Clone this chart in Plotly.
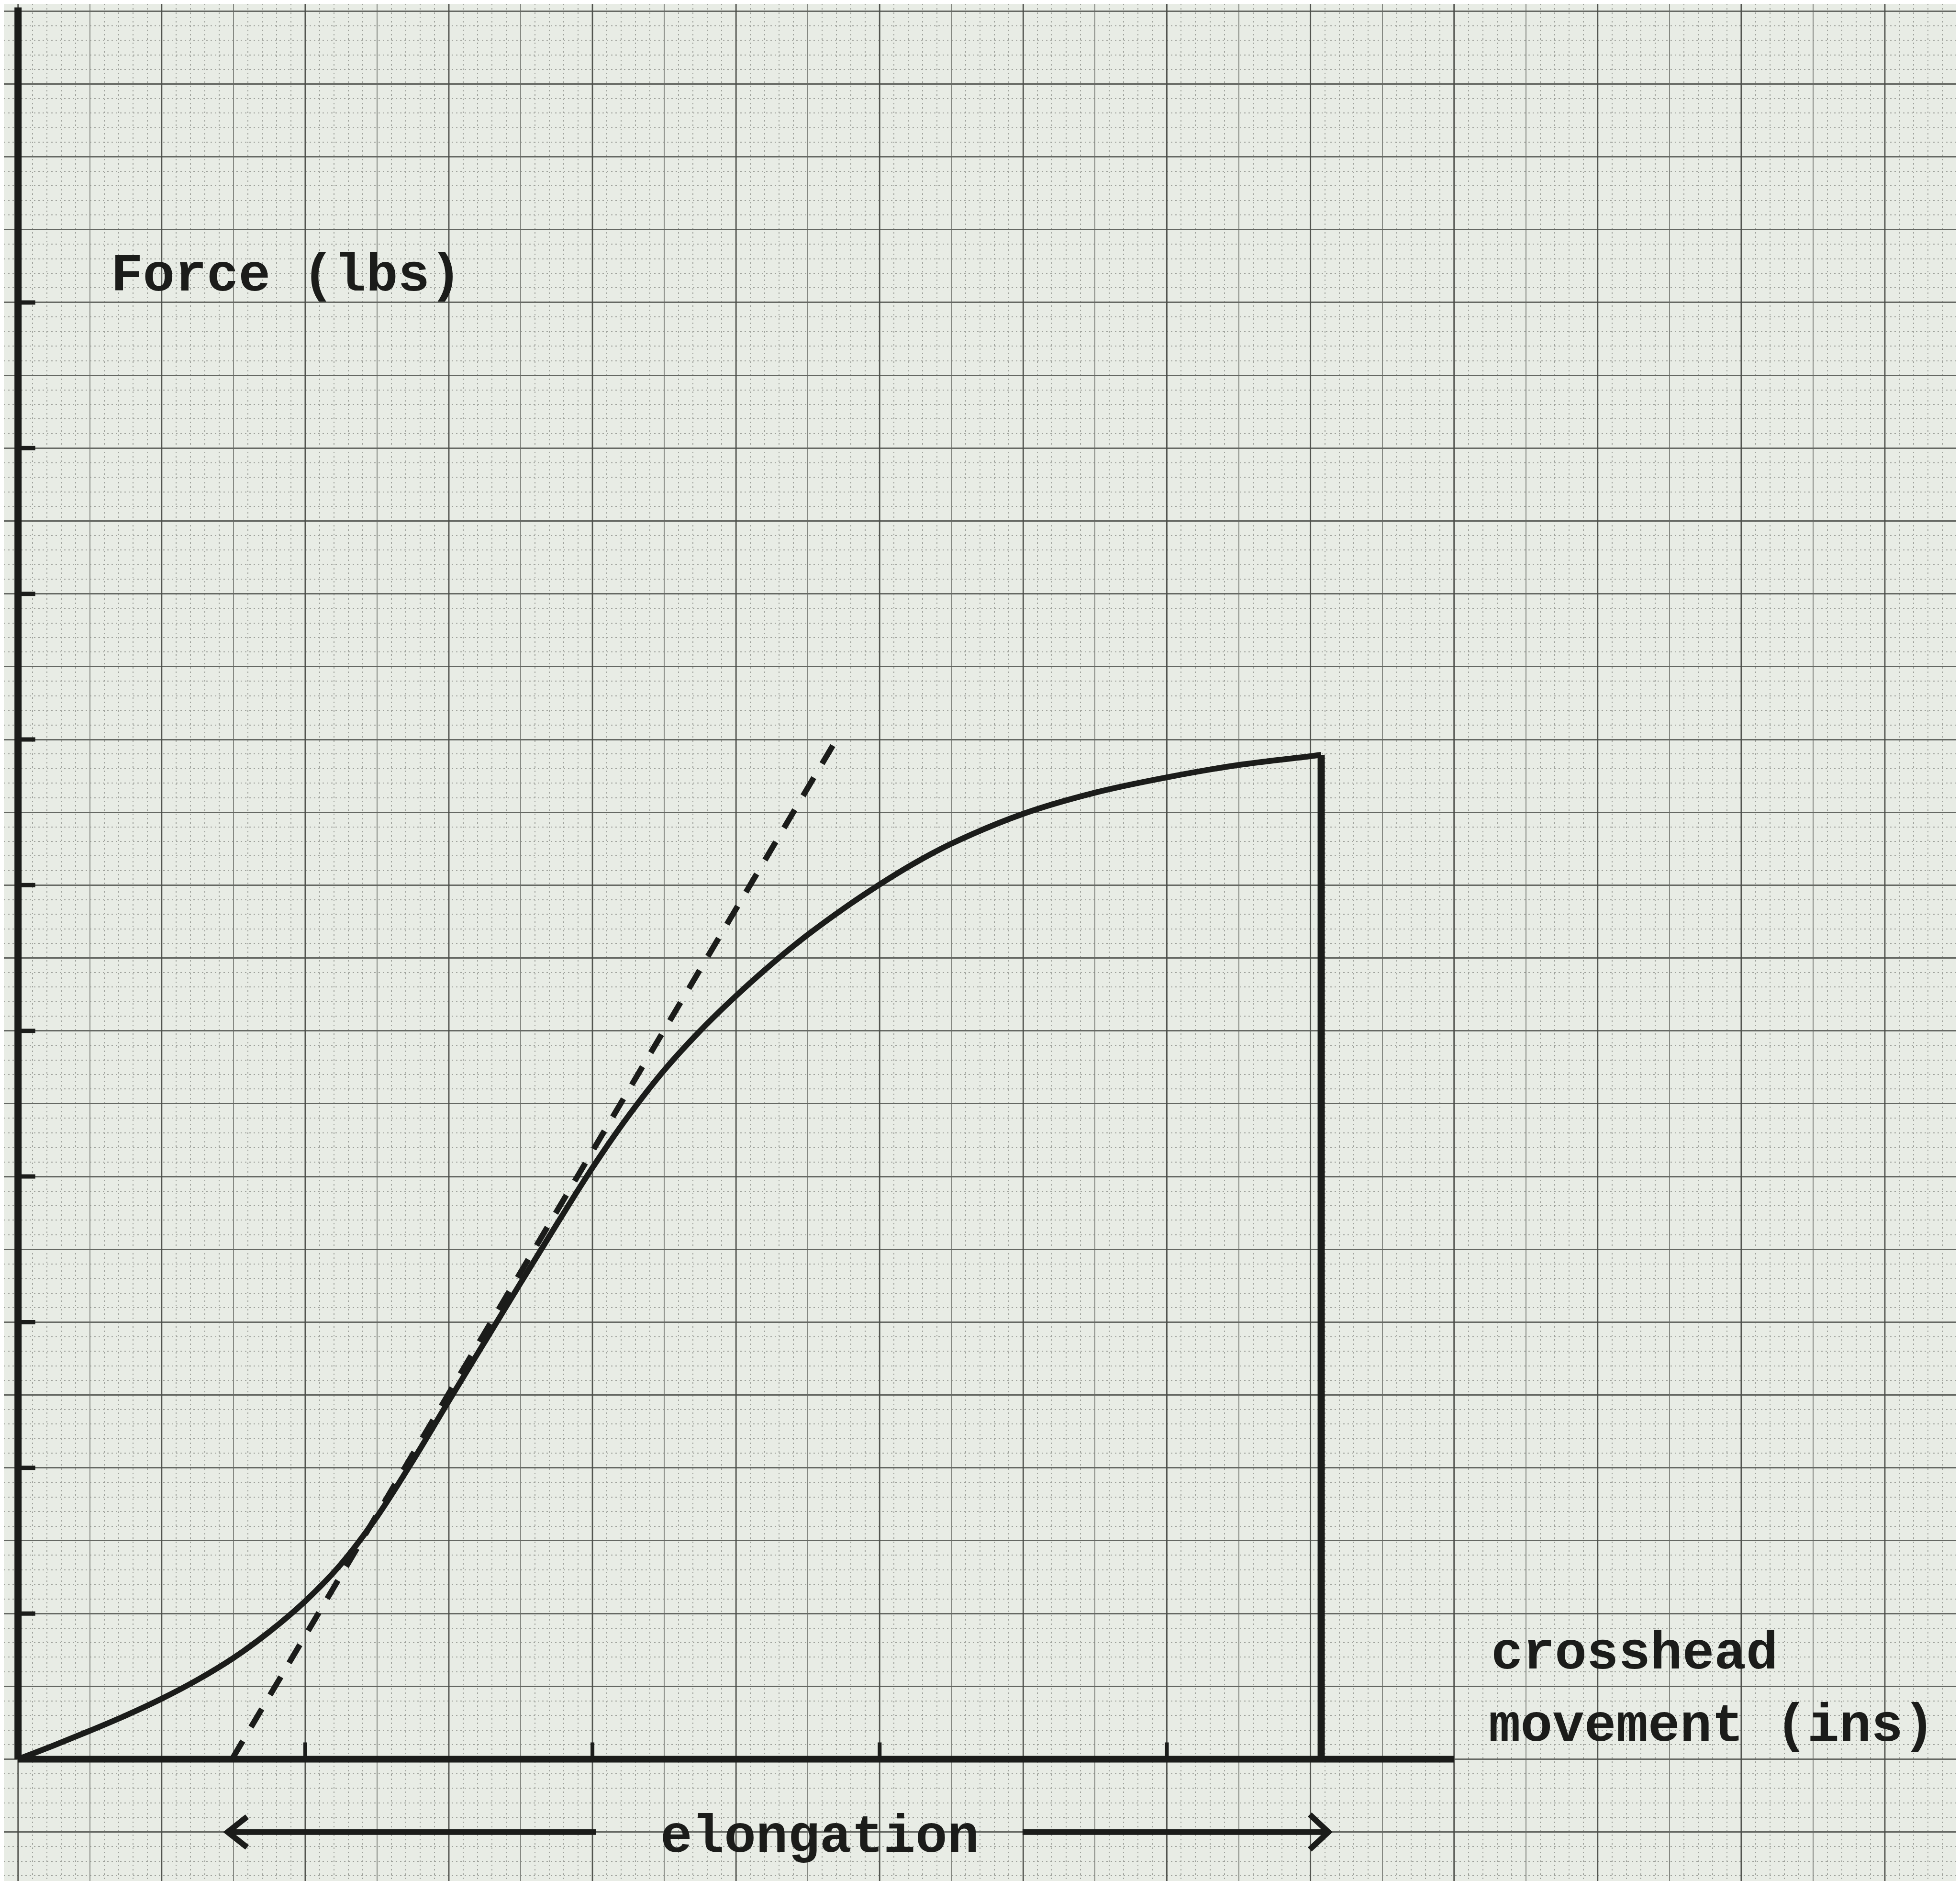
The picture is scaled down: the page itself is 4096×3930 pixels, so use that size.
import numpy as np
import plotly.graph_objects as go

# ---------------- data (in graph-paper squares) ----------------
curve_x = [0, 0.5, 1.0, 1.5, 2.0, 2.5, 3.0, 3.5, 4.0, 4.5, 5.0, 5.5, 6.0, 6.5, 7.0, 7.5,
           8.0, 8.5, 9.0, 9.5, 10.0, 10.5, 11.0, 11.5, 12.0, 12.5, 13.0, 14.0, 15.0,
           16.0, 17.0, 18.0, 18.15]
curve_y = [0, 0.19, 0.39, 0.60, 0.83, 1.09, 1.39, 1.75, 2.17, 2.68, 3.33, 4.10, 4.92,
           5.73, 6.54, 7.34, 8.12, 8.83, 9.46, 10.0, 10.48, 10.92, 11.32, 11.68, 12.01,
           12.31, 12.57, 12.98, 13.27, 13.48, 13.65, 13.77, 13.79]

break_x = [18.15, 18.15]
break_y = [13.79, 0.0]

tangent_x = [2.98, 11.35]
tangent_y = [0.0, 13.92]

x_axis_end = 20.0
y_axis_end = 24.05
x_tick_values = [4, 8, 12, 16]
y_tick_values = [2, 4, 6, 8, 10, 12, 14, 16, 18, 20]

elong_y = -1.0
elong_left = 2.92
elong_left_shaft_end = 8.05
elong_right_shaft_start = 13.99
elong_right = 18.25

y_label = "Force (lbs)"
x_label_1 = "crosshead"
x_label_2 = "movement (ins)"
elong_label = "elongation"

# ---------------- frame ----------------
W, H = 4096, 3930
X_RANGE = [-0.198, 27.10]
Y_RANGE = [-1.725, 24.10]
PAPER = "#E8ECE5"
INK = "#1b1c1a"

fig = go.Figure()

# darker graph-paper verticals every 2 squares
ev_x, ev_y = [], []
for gx in np.arange(0, 28, 2):
    ev_x += [gx, gx, None]
    ev_y += [Y_RANGE[0], Y_RANGE[1], None]
fig.add_trace(go.Scatter(x=ev_x, y=ev_y, mode="lines",
                         line=dict(color="rgba(70,72,68,0.8)", width=3),
                         hoverinfo="skip", showlegend=False))

# axes
fig.add_trace(go.Scatter(x=[0, 0], y=[0, y_axis_end], mode="lines",
                         line=dict(color=INK, width=15), showlegend=False))
fig.add_trace(go.Scatter(x=[0, x_axis_end], y=[0, 0], mode="lines",
                         line=dict(color=INK, width=14), showlegend=False))

# ticks
tx, ty = [], []
for v in x_tick_values:
    tx += [v, v, None]
    ty += [0, 0.23, None]
fig.add_trace(go.Scatter(x=tx, y=ty, mode="lines",
                         line=dict(color=INK, width=8), showlegend=False))
tx, ty = [], []
for v in y_tick_values:
    tx += [0, 0.24, None]
    ty += [v, v, None]
fig.add_trace(go.Scatter(x=tx, y=ty, mode="lines",
                         line=dict(color=INK, width=9), showlegend=False))

# dashed tangent
fig.add_trace(go.Scatter(x=tangent_x, y=tangent_y, mode="lines",
                         line=dict(color=INK, width=12, dash="44px,34px"),
                         showlegend=False))

# force curve
fig.add_trace(go.Scatter(x=curve_x, y=curve_y, mode="lines",
                         line=dict(color=INK, width=12, shape="spline", smoothing=1.0),
                         showlegend=False))
# fracture drop
fig.add_trace(go.Scatter(x=break_x, y=break_y, mode="lines",
                         line=dict(color=INK, width=15), showlegend=False))

# elongation arrows
ax = [elong_left + 0.27, elong_left, elong_left + 0.27, None,
      elong_left, elong_left_shaft_end, None,
      elong_right_shaft_start, elong_right, None,
      elong_right - 0.26, elong_right, elong_right - 0.26]
ay = [elong_y + 0.21, elong_y, elong_y - 0.21, None,
      elong_y, elong_y, None,
      elong_y, elong_y, None,
      elong_y + 0.24, elong_y, elong_y - 0.24]
fig.add_trace(go.Scatter(x=ax, y=ay, mode="lines",
                         line=dict(color=INK, width=12), showlegend=False))

font = dict(family="Liberation Mono, Courier New, monospace", size=111, color=INK,
            weight="bold")
anns = [
    dict(x=1.28, y=20.36, text=y_label),
    dict(x=20.50, y=1.44, text=x_label_1),
    dict(x=20.47, y=0.45, text=x_label_2),
    dict(x=8.93, y=-1.08, text=elong_label),
]
for a in anns:
    fig.add_annotation(x=a["x"], y=a["y"], text=a["text"], xref="x", yref="y",
                       xanchor="left", yanchor="middle", showarrow=False, font=font)

axis_common = dict(showticklabels=False, ticks="", zeroline=False, showline=False,
                   fixedrange=True, tick0=0, dtick=1, showgrid=True)
fig.update_layout(
    width=W, height=H,
    margin=dict(l=0, r=0, t=0, b=0),
    paper_bgcolor=PAPER, plot_bgcolor=PAPER,
    showlegend=False,
    xaxis=dict(range=X_RANGE, gridcolor="#858882", gridwidth=2,
               minor=dict(dtick=0.2, tick0=0, showgrid=True, gridcolor="#9fa29c",
                          gridwidth=2, griddash="3px,6px"),
               **axis_common),
    yaxis=dict(range=Y_RANGE, gridcolor="#656863", gridwidth=3,
               minor=dict(dtick=0.2, tick0=0, showgrid=True, gridcolor="#9fa29c",
                          gridwidth=2, griddash="3px,6px"),
               **axis_common),
)

fig.write_html("out.html")
